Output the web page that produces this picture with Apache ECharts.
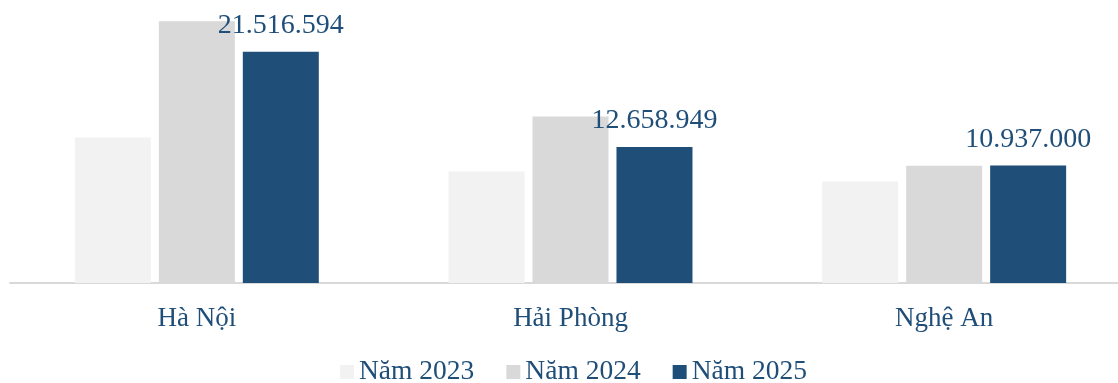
<!DOCTYPE html>
<html>
<head>
<meta charset="utf-8">
<script src="https://cdn.jsdelivr.net/npm/echarts@6/dist/echarts.min.js"></script>
<style>
html,body{margin:0;padding:0;background:#fff;}
#chart{width:1118px;height:383px;}
</style>
</head>
<body>
<div id="chart"></div>
<script>
const categories = ['Hà Nội', 'Hải Phòng', 'Nghệ An'];
const seriesNames = ['Năm 2023', 'Năm 2024', 'Năm 2025'];
const values2023 = [13540000, 10380000, 9450000];
const values2024 = [24360000, 15500000, 10910000];
const values2025 = [21516594, 12658949, 10937000];

const colors = ['#f2f2f2', '#d9d9d9', '#1f4e79'];
const textColor = '#1f4e79';
const font = '"Liberation Serif", "Times New Roman", serif';

function fmt(v) {
  return String(v).replace(/\B(?=(\d{3})+(?!\d))/g, '.');
}

const chart = echarts.init(document.getElementById('chart'), null, {renderer: 'canvas'});
const dataSets = [values2023, values2024, values2025];
chart.setOption({
  animation: false,
  color: colors,
  grid: {left: 10, width: 1121, top: 10, bottom: 100, containLabel: false, outerBoundsMode: 'none'},
  legend: {
    data: seriesNames,
    left: 340,
    top: 358,
    padding: 0,
    itemWidth: 14,
    itemHeight: 14,
    itemGap: 32,
    icon: 'rect',
    textStyle: {fontFamily: font, fontSize: 27.5, color: textColor, padding: [0, 0, 0, 0]}
  },
  xAxis: {
    type: 'category',
    data: categories,
    axisTick: {show: false},
    axisLine: {lineStyle: {color: '#d9d9d9', width: 2}},
    axisLabel: {fontFamily: font, fontSize: 27, color: textColor, margin: 22}
  },
  yAxis: {
    type: 'value',
    min: 0,
    max: 25400000,
    show: false,
    splitLine: {show: false}
  },
  series: dataSets.map((d, i) => ({
    name: seriesNames[i],
    type: 'bar',
    data: d,
    barWidth: 76,
    barGap: '10.5%',
    itemStyle: {color: colors[i]},
    label: i === 2 ? {
      show: true,
      position: 'top',
      distance: 12,
      fontFamily: font,
      fontSize: 28,
      color: textColor,
      formatter: p => fmt(p.value)
    } : {show: false}
  }))
});
</script>
</body>
</html>
